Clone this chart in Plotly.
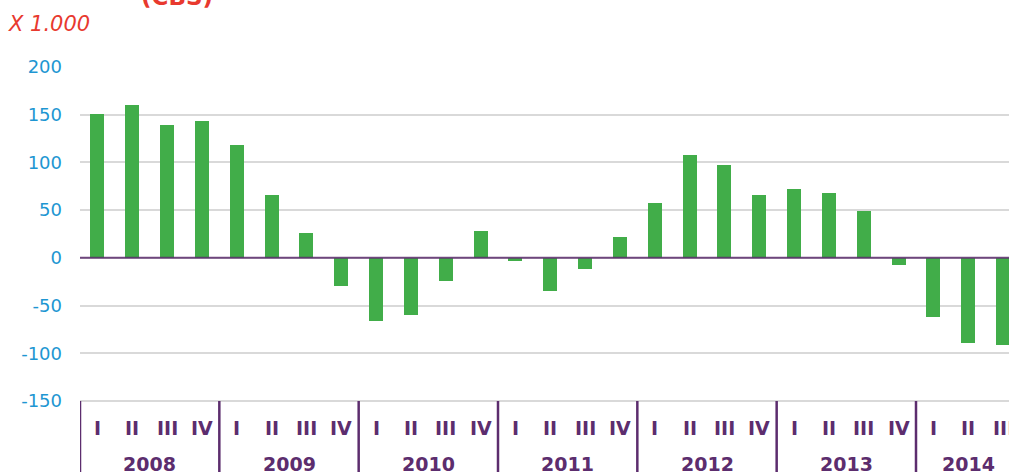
import plotly.graph_objects as go

# ---- data ----
years = ["2008", "2009", "2010", "2011", "2012", "2013", "2014"]
quarters_per_year = [4, 4, 4, 4, 4, 4, 3]
quarter_names = ["I", "II", "III", "IV"]
values = [
    151, 160, 139, 143,     # 2008
    118, 66, 26, -29,       # 2009
    -66, -60, -24, 28,      # 2010
    -3.5, -34.5, -12, 21.5, # 2011
    57, 107.5, 97, 65.5,    # 2012
    72, 68, 49, -7.5,       # 2013
    -62, -89, -91,          # 2014
]
y_ticks = [-150, -100, -50, 0, 50, 100, 150, 200]
y_tick_text = ["-150", "-100", "-50", "0", "50", "100", "150", "200"]

# ---- derived ----
quarter_labels = []
for yr, n in zip(years, quarters_per_year):
    for q in range(n):
        quarter_labels.append(quarter_names[q])
x = list(range(len(values)))

GREEN = "#41AD49"
PURPLE = "#5C2D6E"
BLUE = "#1E96D2"
RED = "#E8392E"
GRID = "#D9D9D9"
FONT = "DejaVu Sans"

fig = go.Figure()
fig.add_trace(go.Bar(x=x, y=values, marker_color=GREEN, width=0.4,
                     marker_line_width=0, hoverinfo="x+y"))

# y range: extend below -150 so the category labels live in the plot area
y_top, y_bot = 200, -224.4
q_label_y = -178.5
yr_label_y = -216

shapes = []
# zero line above bars
shapes.append(dict(type="line", xref="paper", yref="y", x0=0, x1=1, y0=0, y1=0,
                   line=dict(color=PURPLE, width=2), layer="above", opacity=0.85))
# year separators
start = 0
for n in quarters_per_year:
    sep = start - 0.5
    shapes.append(dict(type="line", xref="x", yref="y", x0=sep, x1=sep,
                       y0=y_ticks[0], y1=y_bot, line=dict(color=PURPLE, width=2.5)))
    start += n

annotations = []
for xi, ql in zip(x, quarter_labels):
    annotations.append(dict(x=xi, y=q_label_y, xref="x", yref="y", text=ql,
                            showarrow=False, xanchor="center", yanchor="middle",
                            font=dict(family=FONT, size=19, color=PURPLE, weight="bold")))
start = 0
for yr, n in zip(years, quarters_per_year):
    center = start + (n - 1) / 2
    annotations.append(dict(x=center, y=yr_label_y, xref="x", yref="y", text=yr,
                            showarrow=False, xanchor="center", yanchor="middle",
                            font=dict(family=FONT, size=19, color=PURPLE, weight="bold")))
    start += n

annotations.append(dict(x=-0.0795, y=1.105, xref="paper", yref="paper", text="<i>X 1.000</i>",
                        showarrow=False, xanchor="left", yanchor="middle",
                        font=dict(family=FONT, size=21, color=RED)))
annotations.append(dict(x=0.104, y=1.172, xref="paper", yref="paper", text="<b>(CBS)</b>",
                        showarrow=False, xanchor="center", yanchor="middle",
                        font=dict(family=FONT, size=23, color=RED)))

fig.update_layout(
    width=1009, height=472,
    margin=dict(l=80, r=0, t=67, b=0, pad=0),
    plot_bgcolor="white", paper_bgcolor="white",
    showlegend=False,
    bargap=0,
    shapes=shapes,
    annotations=annotations,
    xaxis=dict(range=[-0.5, 26.17], showgrid=False, zeroline=False,
               showticklabels=False, showline=False, ticks="", fixedrange=True),
    yaxis=dict(range=[y_bot, y_top], tickvals=y_ticks, ticktext=y_tick_text,
               showgrid=True, gridcolor=GRID, gridwidth=2, zeroline=False,
               showline=False, ticks="", ticklabelstandoff=17,
               tickfont=dict(family=FONT, size=18, color=BLUE), fixedrange=True),
)

fig.write_html("out.html", config={"displayModeBar": False},
               post_script="document.body.style.margin='0';document.body.style.overflow='hidden';")
